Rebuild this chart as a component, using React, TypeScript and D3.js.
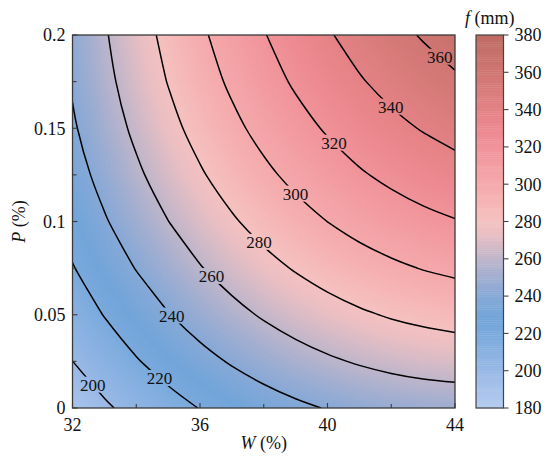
import React, { useMemo } from "react";
import * as d3 from "d3";

// ---------- data ----------
const wValues = [32, 33, 34, 35, 36, 37, 38, 39, 40, 41, 42, 43, 44];
const pValues = [0, 0.025, 0.05, 0.075, 0.1, 0.125, 0.15, 0.175, 0.2];
// f (mm), one row per P value (P ascending), one column per W value
const fRow0 = [188.3, 197.4, 205.9, 213.5, 220.5, 226.7, 232.1, 236.8, 240.8, 244.0, 246.5, 248.3, 249.3];
const fRow1 = [199.9, 209.7, 218.8, 227.1, 234.7, 241.5, 247.6, 253.0, 257.6, 261.5, 264.7, 267.1, 268.7];
const fRow2 = [210.2, 220.6, 230.3, 239.3, 247.5, 255.0, 261.8, 267.8, 273.1, 277.7, 281.5, 284.5, 286.9];
const fRow3 = [219.1, 230.2, 240.6, 250.2, 259.1, 267.2, 274.7, 281.3, 287.3, 292.5, 296.9, 300.7, 303.6];
const fRow4 = [226.7, 238.5, 249.5, 259.8, 269.3, 278.1, 286.2, 293.5, 300.1, 306.0, 311.1, 315.5, 319.1];
const fRow5 = [233.0, 245.4, 257.1, 268.0, 278.2, 287.7, 296.4, 304.4, 311.6, 318.2, 323.9, 328.9, 333.2];
const fRow6 = [238.0, 251.0, 263.4, 275.0, 285.8, 295.9, 305.3, 313.9, 321.8, 329.0, 335.4, 341.1, 346.1];
const fRow7 = [241.6, 255.3, 268.3, 280.6, 292.1, 302.8, 312.9, 322.2, 330.7, 338.5, 345.6, 351.9, 357.5];
const fRow8 = [243.9, 258.3, 271.9, 284.8, 297.0, 308.4, 319.1, 329.1, 338.3, 346.7, 354.5, 361.4, 367.7];
const fGrid = [fRow0, fRow1, fRow2, fRow3, fRow4, fRow5, fRow6, fRow7, fRow8];

const contourLevels = [200, 220, 240, 260, 280, 300, 320, 340, 360];
const labelLevels = [200, 220, 240, 260, 280, 300, 320, 340, 360];
const labelW = [32.62, 34.72, 35.11, 36.34, 37.85, 38.95, 40.13, 41.88, 43.4];
const labelP = [0.0123, 0.0159, 0.0495, 0.0704, 0.089, 0.1142, 0.141, 0.1598, 0.186];

const xMajor = [32, 36, 40, 44];
const xMinor = [34, 38, 42];
const yMajor = [0, 0.05, 0.1, 0.15, 0.2];
const yMinor = [0.025, 0.075, 0.125, 0.175];
const cbTicks = [180, 200, 220, 240, 260, 280, 300, 320, 340, 360, 380];
const cbDomain = [180, 380];

const colorStops = [180, 200, 220, 228, 240, 250, 258, 266, 274, 281, 292, 310, 328, 345, 362, 380];
const colorHex = [
  "#b4cbf0", "#99b9e6", "#7aaadd", "#72a5da", "#86a9d7", "#a0aed1", "#b8b4cc", "#d2bac7",
  "#ebbfc3", "#f5c1c0", "#f6b2b2", "#f39ea3", "#ee8a92", "#df7f80", "#cd7571", "#bf6b63",
];

// ---------- layout ----------
const W = 550, H = 461;
const PL = 72.5, PR = 455, PT = 35, PB = 408;
const CBL = 476, CBR = 503.5;
const FONT = "'Liberation Serif', 'Times New Roman', serif";

export default function App() {
  const x = d3.scaleLinear().domain([32, 44]).range([PL, PR]);
  const y = d3.scaleLinear().domain([0, 0.2]).range([PB, PT]);
  const n = wValues.length, m = pValues.length;
  const gx = d3.scaleLinear().domain([0.5, n - 0.5]).range([x(wValues[0]), x(wValues[n - 1])]);
  const gy = d3.scaleLinear().domain([0.5, m - 0.5]).range([y(pValues[0]), y(pValues[m - 1])]);
  const color = d3.scaleLinear<string>().domain(colorStops).range(colorHex).interpolate(d3.interpolateRgb).clamp(true);
  const cbY = d3.scaleLinear().domain(cbDomain).range([PB, PT]);

  const { fills, lines, labels } = useMemo(() => {
    const values = fGrid.flat();
    const gen = d3.contours().size([n, m]);
    const thresholds = d3.range(180, 380, 1);
    const fills = thresholds.map((t) => {
      const c = gen.contour(values, t);
      const d = c.coordinates
        .map((poly) =>
          poly.map((ring) => "M" + ring.map((p) => `${gx(p[0]).toFixed(2)},${gy(p[1]).toFixed(2)}`).join("L") + "Z").join("")
        )
        .join("");
      return { t, d };
    });
    const eps = 1e-6;
    const inside = (p: number[]) => p[0] >= 0.5 - eps && p[0] <= n - 0.5 + eps && p[1] >= 0.5 - eps && p[1] <= m - 0.5 + eps;
    const lineGen = d3.line<number[]>().x((p) => gx(p[0])).y((p) => gy(p[1])).curve(d3.curveCatmullRom.alpha(0.5));
    const lines: { level: number; d: string; pts: number[][][] }[] = contourLevels.map((level) => {
      const c = gen.contour(values, level);
      const runs: number[][][] = [];
      c.coordinates.forEach((poly) =>
        poly.forEach((ringIn) => {
          const ring = ringIn.slice(0, ringIn.length - 1);
          const start = ring.findIndex((p) => !inside(p));
          if (start < 0) {
            runs.push(ringIn);
            return;
          }
          let cur: number[][] = [];
          for (let k = 0; k < ring.length; k++) {
            const p = ring[(start + k) % ring.length];
            if (inside(p)) cur.push(p);
            else {
              if (cur.length > 1) runs.push(cur);
              cur = [];
            }
          }
          if (cur.length > 1) runs.push(cur);
        })
      );
      const d = runs.map((r) => lineGen(r) || "").join("");
      const pts = runs.map((r) => r.map((p) => [gx(p[0]), gy(p[1])]));
      return { level, d, pts };
    });
    const labels = labelLevels.map((level, i) => {
      const ax = x(labelW[i]), ay = y(labelP[i]);
      const ln = lines.find((l) => l.level === level);
      let best = [ax, ay], bd = Infinity;
      ln?.pts.forEach((run) => {
        for (let k = 0; k < run.length - 1; k++) {
          const [x1, y1] = run[k], [x2, y2] = run[k + 1];
          const dx = x2 - x1, dy = y2 - y1;
          const L = dx * dx + dy * dy || 1;
          let tt = ((ax - x1) * dx + (ay - y1) * dy) / L;
          tt = Math.max(0, Math.min(1, tt));
          const px = x1 + tt * dx, py = y1 + tt * dy;
          const dd = (px - ax) ** 2 + (py - ay) ** 2;
          if (dd < bd) { bd = dd; best = [px, py]; }
        }
      });
      return { level, cx: best[0], cy: best[1] };
    });
    return { fills, lines, labels };
  }, []);

  const cbBands = d3.range(cbDomain[0], cbDomain[1], 1);

  return (
    <svg width={W} height={H} viewBox={`0 0 ${W} ${H}`} style={{ position: "absolute", left: 0, top: 0, background: "#fff" }}>
      <defs>
        <clipPath id="plotClip">
          <rect x={PL} y={PT} width={PR - PL} height={PB - PT} />
        </clipPath>
        <mask id="labelMask" maskUnits="userSpaceOnUse" x={0} y={0} width={W} height={H}>
          <rect x={0} y={0} width={W} height={H} fill="#fff" />
          {labels.map((l) => (
            <rect key={l.level} x={l.cx - 16} y={l.cy - 8} width={32} height={16} fill="#000" />
          ))}
        </mask>
      </defs>
      <g clipPath="url(#plotClip)">
        {fills.map((f) => (
          <path key={f.t} d={f.d} fill={color(f.t + 0.5)} stroke={color(f.t + 0.5)} strokeWidth={0.3} />
        ))}
        <g mask="url(#labelMask)">
          {lines.map((l) => (
            <path key={l.level} d={l.d} fill="none" stroke="#000" strokeWidth={1.5} />
          ))}
        </g>
      </g>
      {labels.map((l) => (
        <text key={l.level} x={l.cx} y={l.cy} dy="0.35em" textAnchor="middle" fontFamily={FONT} fontSize={17} fill="#111">
          {l.level}
        </text>
      ))}
      {/* axes frame */}
      <rect x={PL} y={PT} width={PR - PL} height={PB - PT} fill="none" stroke="#3a3a3a" strokeWidth={1.3} />
      {xMajor.map((t) => (
        <g key={"xm" + t}>
          <line x1={x(t)} x2={x(t)} y1={PB} y2={PB - 5} stroke="#3a3a3a" strokeWidth={1.1} />
          <text x={x(t)} y={PB + 23} textAnchor="middle" fontFamily={FONT} fontSize={18} fill="#111">{t}</text>
        </g>
      ))}
      {xMinor.map((t) => (
        <line key={"xn" + t} x1={x(t)} x2={x(t)} y1={PB} y2={PB - 4} stroke="#3a3a3a" strokeWidth={1.1} />
      ))}
      {yMajor.map((t) => (
        <g key={"ym" + t}>
          <line x1={PL} x2={PL + 5} y1={y(t)} y2={y(t)} stroke="#3a3a3a" strokeWidth={1.1} />
          <text x={PL - 7} y={y(t)} dy="0.35em" textAnchor="end" fontFamily={FONT} fontSize={18} fill="#111">{t}</text>
        </g>
      ))}
      {yMinor.map((t) => (
        <line key={"yn" + t} x1={PL} x2={PL + 4} y1={y(t)} y2={y(t)} stroke="#3a3a3a" strokeWidth={1.1} />
      ))}
      <text x={(PL + PR) / 2} y={449} textAnchor="middle" fontFamily={FONT} fontSize={18} fill="#111">
        <tspan fontStyle="italic">W</tspan> (%)
      </text>
      <text transform={`translate(25,${(PT + PB) / 2}) rotate(-90)`} textAnchor="middle" fontFamily={FONT} fontSize={18} fill="#111">
        <tspan fontStyle="italic">P</tspan> (%)
      </text>
      {/* colorbar */}
      {cbBands.map((t) => (
        <rect key={"cb" + t} x={CBL} y={cbY(t + 1)} width={CBR - CBL} height={cbY(t) - cbY(t + 1) + 0.4} fill={color(t + 0.5)} />
      ))}
      <rect x={CBL} y={PT} width={CBR - CBL} height={PB - PT} fill="none" stroke="#444" strokeWidth={1.2} />
      {cbTicks.map((t) => (
        <g key={"cbt" + t}>
          <line x1={CBR} x2={CBR + 5} y1={cbY(t)} y2={cbY(t)} stroke="#444" strokeWidth={1.1} />
          <text x={CBR + 11} y={cbY(t)} dy="0.35em" fontFamily={FONT} fontSize={18} fill="#111">{t}</text>
        </g>
      ))}
      <text x={(CBL + CBR) / 2} y={24} textAnchor="middle" fontFamily={FONT} fontSize={18} fill="#111">
        <tspan fontStyle="italic">f</tspan> (mm)
      </text>
    </svg>
  );
}
